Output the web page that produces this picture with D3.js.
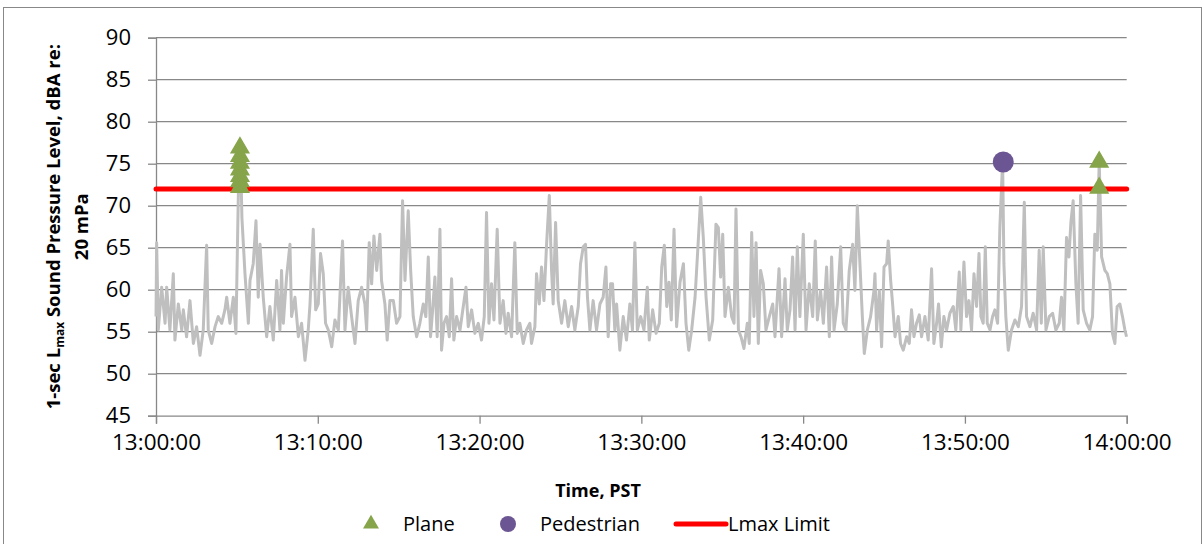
<!DOCTYPE html>
<html><head><meta charset="utf-8">
<script src="https://cdn.jsdelivr.net/npm/d3@7"></script>
<style>
body{margin:0;background:#fff}
svg{display:block}
text{font-family:"Open Sans",sans-serif;fill:#000}
</style>
</head><body>
<svg id="chart" width="1204" height="544"></svg>
<script>
// ---- data ----
const xTickMinutes = [0, 10, 20, 30, 40, 50, 60];
const xTickLabels = ["13:00:00", "13:10:00", "13:20:00", "13:30:00", "13:40:00", "13:50:00", "14:00:00"];
const yTicks = [45, 50, 55, 60, 65, 70, 75, 80, 85, 90];

// 1-sec Lmax trace: minutes after 13:00:00 and dBA
const noiseMin = [
0.00,0.04,0.14,0.35,0.56,0.66,0.86,1.07,1.17,1.38,1.59,1.69,1.89,2.10,2.31,2.51,2.72,2.92,3.13,3.23,
3.44,3.65,3.85,4.06,4.26,4.37,4.57,4.78,4.94,5.09,5.17,5.25,5.31,5.50,5.71,5.81,6.01,6.18,6.32,6.43,
6.63,6.84,7.04,7.25,7.46,7.66,7.76,7.87,8.07,8.28,8.38,8.59,8.80,9.00,9.21,9.41,9.52,9.72,9.87,10.03,
10.17,10.34,10.48,10.65,10.86,11.06,11.27,11.53,11.68,11.88,12.09,12.30,12.50,12.71,12.91,13.02,13.18,13.33,13.47,13.64,
13.84,13.94,14.15,14.29,14.46,14.67,14.87,15.08,15.24,15.39,15.59,15.74,15.90,16.11,16.31,16.52,16.68,16.83,16.97,17.10,
17.24,17.38,17.55,17.65,17.80,17.96,18.13,18.27,18.41,18.58,18.79,18.95,19.16,19.30,19.51,19.71,19.92,20.12,20.29,20.43,
20.58,20.74,20.89,21.09,21.26,21.46,21.63,21.77,21.98,22.18,22.33,22.49,22.70,22.90,23.11,23.21,23.42,23.52,23.69,23.83,
23.98,24.14,24.31,24.45,24.55,24.70,24.86,25.07,25.27,25.48,25.69,25.89,26.10,26.24,26.41,26.55,26.67,26.82,27.02,27.23,
27.44,27.64,27.81,27.95,28.10,28.22,28.36,28.47,28.67,28.88,29.08,29.29,29.45,29.60,29.75,29.96,30.16,30.37,30.49,30.70,
30.91,31.11,31.26,31.42,31.57,31.71,31.85,32.02,32.18,32.39,32.60,32.76,32.93,33.11,33.32,33.48,33.67,33.83,34.00,34.20,
34.41,34.61,34.76,34.90,35.03,35.17,35.38,35.58,35.73,35.85,36.00,36.16,36.34,36.55,36.67,36.82,36.96,37.09,37.23,37.37,
37.54,37.70,37.91,38.12,38.26,38.51,38.67,38.88,39.02,39.19,39.35,39.50,39.64,39.80,40.01,40.18,40.38,40.59,40.75,40.88,
41.08,41.25,41.45,41.62,41.76,41.91,42.11,42.32,42.48,42.65,42.85,43.06,43.20,43.35,43.51,43.66,43.78,43.97,44.17,44.38,
44.44,44.54,44.71,44.85,45.00,45.16,45.26,45.41,45.53,45.68,45.88,46.02,46.19,46.40,46.56,46.70,46.85,47.01,47.18,47.32,
47.53,47.73,47.94,48.08,48.25,48.37,48.54,48.70,48.87,49.07,49.28,49.44,49.65,49.75,49.94,50.10,50.25,50.41,50.56,50.72,
50.87,50.99,51.13,51.26,51.38,51.55,51.71,51.85,52.02,52.16,52.33,52.41,52.53,52.68,52.88,53.09,53.30,53.50,53.67,53.81,
54.02,54.22,54.43,54.59,54.72,54.84,55.01,55.21,55.42,55.62,55.83,55.97,56.12,56.28,56.43,56.55,56.69,56.86,57.00,57.15,
57.31,57.52,57.72,57.89,58.03,58.18,58.30,58.45,58.65,58.80,58.96,59.12,59.27,59.41,59.58,59.74,59.89,59.99
];
const noiseDb = [
56.8,65.6,55.2,60.3,56.0,60.3,55.2,61.9,54.0,58.3,55.2,57.6,54.4,58.7,53.6,55.6,52.2,55.2,65.3,55.2,
53.6,55.6,56.8,56.0,57.6,59.1,56.0,59.1,54.8,71.4,76.9,74.0,68.6,61.9,56.0,61.1,63.1,68.2,59.1,65.4,
59.1,54.4,58.0,54.0,61.1,55.2,62.3,56.0,61.5,65.4,56.8,59.1,54.4,56.0,51.6,55.2,58.3,67.2,57.6,58.3,
64.3,61.9,56.0,55.2,53.2,56.4,55.2,65.8,55.2,60.3,56.8,53.6,58.7,60.3,58.3,55.2,65.6,60.7,66.4,62.3,
66.6,61.1,58.3,54.0,58.7,58.7,56.0,56.8,70.6,61.1,69.4,62.3,56.8,54.4,56.0,58.3,56.8,63.9,54.4,57.6,
61.5,54.4,67.2,52.8,56.0,56.8,54.4,61.3,54.0,56.8,55.2,57.4,60.3,55.6,57.6,54.8,56.0,54.0,56.8,69.2,
56.0,60.7,56.4,67.2,56.0,58.7,54.8,57.2,54.4,65.6,54.8,56.0,53.6,55.2,56.0,53.6,55.6,61.9,58.3,62.7,
58.7,65.3,71.2,62.3,58.3,68.0,58.7,56.0,58.7,55.6,58.0,55.2,58.0,63.1,65.1,65.4,59.1,55.2,58.7,55.2,
58.3,59.1,62.7,54.4,60.7,60.7,55.2,58.3,52.8,56.8,54.0,58.3,55.2,65.6,55.2,56.8,55.2,60.3,54.0,57.6,
54.8,56.0,62.7,65.3,58.0,60.9,56.4,67.2,55.6,60.9,63.1,56.0,52.8,55.2,59.1,64.5,71.0,66.2,59.1,54.0,
56.4,67.8,67.4,61.5,66.6,56.8,60.3,56.8,56.0,69.6,55.2,54.4,53.0,56.0,53.6,66.8,56.8,65.6,53.6,62.3,
60.7,55.2,56.8,58.3,54.4,62.5,54.4,61.3,55.2,57.6,63.9,55.2,65.1,56.8,66.6,55.2,60.7,56.8,65.8,56.4,
59.9,56.0,62.7,54.4,63.9,55.2,58.3,65.1,56.0,55.2,62.3,65.4,59.9,70.0,63.1,56.8,52.4,55.2,56.8,59.9,
61.9,55.2,59.9,53.2,62.7,63.1,65.8,61.1,58.3,54.4,56.8,53.6,52.8,54.4,53.6,57.6,54.4,56.0,57.0,54.4,
56.8,54.0,62.5,53.6,56.0,58.3,53.2,56.8,55.2,57.2,58.0,55.2,62.1,55.2,63.3,56.8,58.7,55.2,61.9,58.0,
64.3,56.8,56.0,65.1,56.0,55.2,56.8,57.6,56.0,67.4,75.3,63.1,56.8,52.8,55.2,56.4,55.6,58.0,70.4,56.8,
55.6,57.2,55.2,64.7,56.0,65.1,55.2,56.8,57.2,55.2,56.0,59.1,55.2,66.2,63.9,68.0,70.6,60.7,56.0,71.2,
57.6,56.0,55.2,56.8,66.6,64.7,75.3,63.9,62.3,61.9,60.7,54.8,53.6,58.0,58.3,56.8,55.2,54.4
];

// event markers
const planeMin = [5.19, 5.19, 5.19, 5.19, 5.19, 5.19, 5.19, 58.30, 58.30];
const planeDb  = [76.9, 75.9, 75.1, 74.3, 73.5, 72.9, 72.2, 75.2, 72.1];
const pedMin = [52.37];
const pedDb  = [75.2];
const limitDb = 72;

const legendNames = ["Plane", "Pedestrian", "Lmax Limit"];

// ---- drawing ----
const m = {left:156, right:1126.7, top:37.7, bottom:415.7};
const svg = d3.select("#chart");
const gridCol = "#888888";

svg.append("rect").attr("x",3.5).attr("y",7.5).attr("width",1198).attr("height",560)
  .attr("fill","#fff").attr("stroke","#888").attr("stroke-width",1);

const x = d3.scaleLinear().domain([0,60]).range([m.left, m.right]);
const y = d3.scaleLinear().domain([45,90]).range([m.bottom, m.top]);

// gridlines
svg.append("g").selectAll("line").data(yTicks.filter(d=>d>45)).join("line")
  .attr("x1",m.left).attr("x2",m.right)
  .attr("y1",d=>y(d)).attr("y2",d=>y(d))
  .attr("stroke",gridCol).attr("stroke-width",1.3);

// y axis
const yAxis = svg.append("g").attr("transform",`translate(${m.left},0)`)
  .call(d3.axisLeft(y).tickValues(yTicks).tickSize(8).tickPadding(17).tickFormat(d3.format("d")));
yAxis.select(".domain").attr("stroke",gridCol).attr("stroke-width",1.3);
yAxis.selectAll(".tick line").attr("stroke",gridCol).attr("stroke-width",1.3);
yAxis.selectAll("text").style("font-family","'Open Sans',sans-serif").style("font-size","22px").attr("fill","#000");

// x axis
const xAxis = svg.append("g").attr("transform",`translate(0,${m.bottom})`)
  .call(d3.axisBottom(x).tickValues(xTickMinutes).tickSize(8).tickPadding(10)
    .tickFormat((d,i)=>xTickLabels[i]));
xAxis.select(".domain").attr("stroke",gridCol).attr("stroke-width",1.3);
xAxis.selectAll(".tick line").attr("stroke",gridCol).attr("stroke-width",1.3);
xAxis.selectAll("text").style("font-family","'Open Sans',sans-serif").style("font-size","22.5px").attr("fill","#000");

// noise trace
const pts = noiseMin.map((t,i)=>[t,noiseDb[i]]);
svg.append("path").datum(pts)
  .attr("d", d3.line().x(d=>x(d[0])).y(d=>y(d[1])))
  .attr("fill","none").attr("stroke","#bfbfbf").attr("stroke-width",3)
  .attr("stroke-linejoin","round");

// limit line
svg.append("line").attr("x1",x(0)).attr("x2",x(60))
  .attr("y1",y(limitDb)).attr("y2",y(limitDb))
  .attr("stroke","#ff0000").attr("stroke-width",5).attr("stroke-linecap","round");

// markers
const tri = d3.symbol().type(d3.symbolTriangle).size(175);
const green = "#86a44a", purple = "#6c5593";
svg.append("g").selectAll("path").data(planeMin.map((t,i)=>[t,planeDb[i]])).join("path")
  .attr("d", tri).attr("transform", d=>`translate(${x(d[0])},${y(d[1])})`)
  .attr("fill",green);
svg.append("g").selectAll("circle").data(pedMin.map((t,i)=>[t,pedDb[i]])).join("circle")
  .attr("cx", d=>x(d[0])).attr("cy", d=>y(d[1])).attr("r",10.5).attr("fill",purple);

// axis titles
svg.append("text").attr("x",598).attr("y",497).attr("text-anchor","middle")
  .style("font-size","18px").style("font-weight","bold").text("Time, PST");

const yt = svg.append("text").attr("transform",`translate(60,${(m.top+m.bottom)/2}) rotate(-90)`)
  .attr("text-anchor","middle").style("font-size","18.5px").style("font-weight","bold");
yt.append("tspan").text("1-sec L");
yt.append("tspan").text("max").style("font-size","12px").attr("dy",4);
yt.append("tspan").text(" Sound Pressure Level, dBA re:").attr("dy",-4);
svg.append("text").attr("transform",`translate(88,${(m.top+m.bottom)/2}) rotate(-90)`)
  .attr("text-anchor","middle").style("font-size","18.5px").style("font-weight","bold").text("20 mPa");

// legend
const lg = svg.append("g");
const ly = 524;
lg.append("path").attr("d", d3.symbol().type(d3.symbolTriangle).size(110))
  .attr("transform",`translate(371,${ly})`).attr("fill",green);
lg.append("text").attr("x",403).attr("y",ly+7).style("font-size","20px").text(legendNames[0]);
lg.append("circle").attr("cx",508).attr("cy",ly).attr("r",8).attr("fill",purple);
lg.append("text").attr("x",540).attr("y",ly+7).style("font-size","20px").text(legendNames[1]);
lg.append("line").attr("x1",676).attr("x2",726).attr("y1",ly).attr("y2",ly)
  .attr("stroke","#ff0000").attr("stroke-width",5).attr("stroke-linecap","round");
lg.append("text").attr("x",728).attr("y",ly+7).style("font-size","20px").text(legendNames[2]);
</script>
</body></html>
